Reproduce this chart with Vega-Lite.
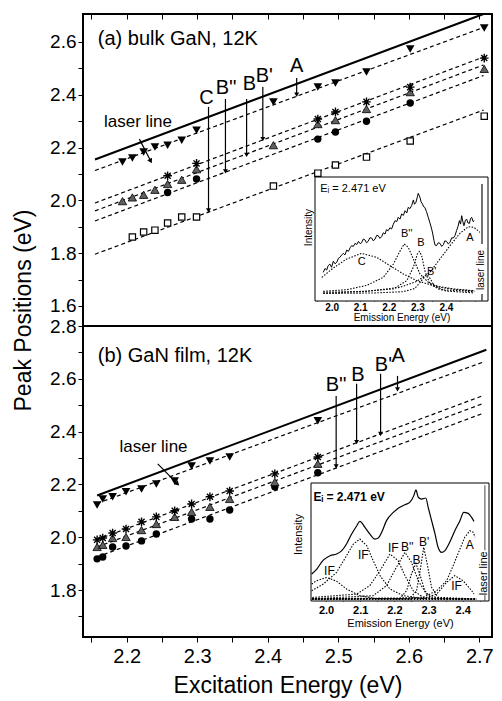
{
  "$schema": "https://vega.github.io/schema/vega-lite/v6.json",
  "padding": {"left": 11, "top": 9, "right": 5, "bottom": 0},
  "bounds": "flush",
  "spacing": 0,
  "config": {
    "view": {"stroke": "black", "strokeWidth": 2},
    "axis": {"grid": false, "labelFont": "Liberation Sans", "titleFont": "Liberation Sans", "labelColor": "black", "titleColor": "black", "tickColor": "black", "domainColor": "black", "titleFontWeight": "normal"},
    "text": {"font": "Liberation Sans", "color": "black"}
  },
  "datasets": {
    "fitsA": [
      {"s": "td", "x": 2.155, "y": 2.113}, {"s": "td", "x": 2.706, "y": 2.655},
      {"s": "st", "x": 2.155, "y": 1.990}, {"s": "st", "x": 2.706, "y": 2.543},
      {"s": "tu", "x": 2.155, "y": 1.960}, {"s": "tu", "x": 2.706, "y": 2.513},
      {"s": "ci", "x": 2.155, "y": 1.922}, {"s": "ci", "x": 2.706, "y": 2.473},
      {"s": "sq", "x": 2.155, "y": 1.796}, {"s": "sq", "x": 2.706, "y": 2.342}
    ],
    "laserA": [{"x": 2.155, "y": 2.155}, {"x": 2.706, "y": 2.706}],
    "ptsA": [
      {"s": "td", "x": 2.194, "y": 2.145}, {"s": "td", "x": 2.208, "y": 2.160}, {"s": "td", "x": 2.224, "y": 2.183}, {"s": "td", "x": 2.240, "y": 2.202}, {"s": "td", "x": 2.258, "y": 2.209}, {"s": "td", "x": 2.278, "y": 2.228}, {"s": "td", "x": 2.299, "y": 2.266}, {"s": "td", "x": 2.408, "y": 2.373}, {"s": "td", "x": 2.471, "y": 2.429}, {"s": "td", "x": 2.496, "y": 2.445}, {"s": "td", "x": 2.540, "y": 2.486}, {"s": "td", "x": 2.602, "y": 2.573}, {"s": "td", "x": 2.707, "y": 2.653},
      {"s": "st", "x": 2.258, "y": 2.093}, {"s": "st", "x": 2.299, "y": 2.140}, {"s": "st", "x": 2.471, "y": 2.308}, {"s": "st", "x": 2.496, "y": 2.335}, {"s": "st", "x": 2.540, "y": 2.373}, {"s": "st", "x": 2.602, "y": 2.429}, {"s": "st", "x": 2.707, "y": 2.539},
      {"s": "tu", "x": 2.194, "y": 1.997}, {"s": "tu", "x": 2.208, "y": 2.011}, {"s": "tu", "x": 2.224, "y": 2.021}, {"s": "tu", "x": 2.240, "y": 2.040}, {"s": "tu", "x": 2.258, "y": 2.062}, {"s": "tu", "x": 2.278, "y": 2.078}, {"s": "tu", "x": 2.299, "y": 2.118}, {"s": "tu", "x": 2.408, "y": 2.209}, {"s": "tu", "x": 2.471, "y": 2.289}, {"s": "tu", "x": 2.496, "y": 2.304}, {"s": "tu", "x": 2.540, "y": 2.346}, {"s": "tu", "x": 2.602, "y": 2.410}, {"s": "tu", "x": 2.707, "y": 2.498},
      {"s": "ci", "x": 2.258, "y": 2.030}, {"s": "ci", "x": 2.299, "y": 2.081}, {"s": "ci", "x": 2.471, "y": 2.232}, {"s": "ci", "x": 2.496, "y": 2.259}, {"s": "ci", "x": 2.540, "y": 2.300}, {"s": "ci", "x": 2.602, "y": 2.369},
      {"s": "sq", "x": 2.208, "y": 1.861}, {"s": "sq", "x": 2.224, "y": 1.880}, {"s": "sq", "x": 2.240, "y": 1.887}, {"s": "sq", "x": 2.258, "y": 1.914}, {"s": "sq", "x": 2.278, "y": 1.937}, {"s": "sq", "x": 2.299, "y": 1.937}, {"s": "sq", "x": 2.408, "y": 2.054}, {"s": "sq", "x": 2.471, "y": 2.103}, {"s": "sq", "x": 2.496, "y": 2.134}, {"s": "sq", "x": 2.540, "y": 2.164}, {"s": "sq", "x": 2.602, "y": 2.225}, {"s": "sq", "x": 2.707, "y": 2.319}
    ],
    "arrA": [
      {"lab": "C", "x": 2.316, "y": 2.354, "y2": 1.962, "lx": 2.313, "ly": 2.386},
      {"lab": "B''", "x": 2.340, "y": 2.384, "y2": 2.110, "lx": 2.341, "ly": 2.424},
      {"lab": "B", "x": 2.370, "y": 2.384, "y2": 2.172, "lx": 2.374, "ly": 2.442},
      {"lab": "B'", "x": 2.393, "y": 2.429, "y2": 2.232, "lx": 2.395, "ly": 2.472},
      {"lab": "A", "x": 2.441, "y": 2.464, "y2": 2.400, "lx": 2.441, "ly": 2.510}
    ],
    "ptrA": [{"x": 2.218, "y": 2.232, "x2": 2.234, "y2": 2.149}],
    "laserTxtA": [{"t": "laser line", "x": 2.216, "y": 2.297}],
    "panelA": [{"t": "(a) bulk GaN, 12K", "x": 2.159, "y": 2.611}],
    "frameA": [{"E": 1.942, "E2": 2.547, "v": 0, "v2": 1}],
    "specA": [
      {"E": 1.971, "v": 0.231}, {"E": 1.977, "v": 0.262}, {"E": 1.983, "v": 0.25}, {"E": 1.988, "v": 0.285}, {"E": 1.994, "v": 0.298}, {"E": 2.000, "v": 0.272}, {"E": 2.006, "v": 0.32}, {"E": 2.012, "v": 0.30}, {"E": 2.018, "v": 0.312}, {"E": 2.024, "v": 0.345}, {"E": 2.029, "v": 0.352}, {"E": 2.035, "v": 0.37}, {"E": 2.041, "v": 0.384}, {"E": 2.047, "v": 0.372}, {"E": 2.053, "v": 0.411}, {"E": 2.059, "v": 0.40}, {"E": 2.065, "v": 0.43}, {"E": 2.070, "v": 0.446}, {"E": 2.076, "v": 0.44}, {"E": 2.082, "v": 0.465}, {"E": 2.088, "v": 0.455}, {"E": 2.094, "v": 0.481}, {"E": 2.100, "v": 0.462}, {"E": 2.105, "v": 0.47}, {"E": 2.111, "v": 0.50}, {"E": 2.117, "v": 0.492}, {"E": 2.122, "v": 0.47}, {"E": 2.128, "v": 0.481}, {"E": 2.134, "v": 0.51}, {"E": 2.140, "v": 0.508}, {"E": 2.146, "v": 0.485}, {"E": 2.152, "v": 0.50}, {"E": 2.158, "v": 0.53}, {"E": 2.163, "v": 0.527}, {"E": 2.169, "v": 0.505}, {"E": 2.175, "v": 0.519}, {"E": 2.181, "v": 0.55}, {"E": 2.187, "v": 0.54}, {"E": 2.192, "v": 0.575}, {"E": 2.198, "v": 0.567}, {"E": 2.204, "v": 0.59}, {"E": 2.210, "v": 0.581}, {"E": 2.216, "v": 0.62}, {"E": 2.222, "v": 0.648}, {"E": 2.228, "v": 0.64}, {"E": 2.233, "v": 0.675}, {"E": 2.239, "v": 0.66}, {"E": 2.245, "v": 0.702}, {"E": 2.251, "v": 0.69}, {"E": 2.257, "v": 0.728}, {"E": 2.263, "v": 0.71}, {"E": 2.268, "v": 0.755}, {"E": 2.274, "v": 0.745}, {"E": 2.280, "v": 0.769}, {"E": 2.286, "v": 0.815}, {"E": 2.290, "v": 0.78}, {"E": 2.295, "v": 0.796}, {"E": 2.300, "v": 0.84}, {"E": 2.303, "v": 0.868}, {"E": 2.309, "v": 0.836}, {"E": 2.313, "v": 0.80}, {"E": 2.318, "v": 0.782}, {"E": 2.322, "v": 0.76}, {"E": 2.326, "v": 0.755}, {"E": 2.332, "v": 0.72}, {"E": 2.338, "v": 0.675}, {"E": 2.344, "v": 0.63}, {"E": 2.350, "v": 0.581}, {"E": 2.354, "v": 0.54}, {"E": 2.358, "v": 0.487}, {"E": 2.362, "v": 0.45}, {"E": 2.367, "v": 0.446}, {"E": 2.373, "v": 0.47}, {"E": 2.379, "v": 0.465}, {"E": 2.385, "v": 0.44}, {"E": 2.391, "v": 0.454}, {"E": 2.396, "v": 0.485}, {"E": 2.402, "v": 0.481}, {"E": 2.408, "v": 0.46}, {"E": 2.414, "v": 0.473}, {"E": 2.420, "v": 0.51}, {"E": 2.426, "v": 0.508}, {"E": 2.432, "v": 0.53}, {"E": 2.437, "v": 0.567}, {"E": 2.442, "v": 0.60}, {"E": 2.447, "v": 0.648}, {"E": 2.451, "v": 0.62}, {"E": 2.455, "v": 0.688}, {"E": 2.459, "v": 0.64}, {"E": 2.463, "v": 0.607}, {"E": 2.468, "v": 0.65}, {"E": 2.472, "v": 0.661}, {"E": 2.477, "v": 0.63}, {"E": 2.482, "v": 0.626}, {"E": 2.486, "v": 0.665}, {"E": 2.490, "v": 0.675}, {"E": 2.495, "v": 0.64}, {"E": 2.499, "v": 0.648}
    ],
    "compA": [
      {"c": "C", "E": 1.966, "v": 0.191}, {"c": "C", "E": 2.006, "v": 0.266}, {"c": "C", "E": 2.053, "v": 0.339}, {"c": "C", "E": 2.105, "v": 0.384}, {"c": "C", "E": 2.158, "v": 0.352}, {"c": "C", "E": 2.204, "v": 0.285}, {"c": "C", "E": 2.251, "v": 0.218}, {"c": "C", "E": 2.298, "v": 0.164}, {"c": "C", "E": 2.356, "v": 0.124}, {"c": "C", "E": 2.426, "v": 0.097}, {"c": "C", "E": 2.499, "v": 0.083},
      {"c": "B2", "E": 1.971, "v": 0.078}, {"c": "B2", "E": 2.053, "v": 0.091}, {"c": "B2", "E": 2.123, "v": 0.126}, {"c": "B2", "E": 2.181, "v": 0.191}, {"c": "B2", "E": 2.216, "v": 0.298}, {"c": "B2", "E": 2.240, "v": 0.406}, {"c": "B2", "E": 2.254, "v": 0.46}, {"c": "B2", "E": 2.268, "v": 0.433}, {"c": "B2", "E": 2.286, "v": 0.339}, {"c": "B2", "E": 2.309, "v": 0.218}, {"c": "B2", "E": 2.338, "v": 0.151}, {"c": "B2", "E": 2.379, "v": 0.11}, {"c": "B2", "E": 2.437, "v": 0.091}, {"c": "B2", "E": 2.499, "v": 0.081},
      {"c": "B", "E": 1.971, "v": 0.07}, {"c": "B", "E": 2.111, "v": 0.078}, {"c": "B", "E": 2.216, "v": 0.097}, {"c": "B", "E": 2.263, "v": 0.164}, {"c": "B", "E": 2.286, "v": 0.272}, {"c": "B", "E": 2.300, "v": 0.379}, {"c": "B", "E": 2.307, "v": 0.40}, {"c": "B", "E": 2.315, "v": 0.366}, {"c": "B", "E": 2.326, "v": 0.245}, {"c": "B", "E": 2.344, "v": 0.137}, {"c": "B", "E": 2.379, "v": 0.091}, {"c": "B", "E": 2.499, "v": 0.075},
      {"c": "B1", "E": 1.971, "v": 0.06}, {"c": "B1", "E": 2.15, "v": 0.065}, {"c": "B1", "E": 2.25, "v": 0.075}, {"c": "B1", "E": 2.29, "v": 0.10}, {"c": "B1", "E": 2.31, "v": 0.15}, {"c": "B1", "E": 2.325, "v": 0.20}, {"c": "B1", "E": 2.335, "v": 0.21}, {"c": "B1", "E": 2.345, "v": 0.18}, {"c": "B1", "E": 2.36, "v": 0.12}, {"c": "B1", "E": 2.40, "v": 0.08}, {"c": "B1", "E": 2.499, "v": 0.065},
      {"c": "A", "E": 1.971, "v": 0.062}, {"c": "A", "E": 2.123, "v": 0.078}, {"c": "A", "E": 2.239, "v": 0.11}, {"c": "A", "E": 2.298, "v": 0.159}, {"c": "A", "E": 2.344, "v": 0.231}, {"c": "A", "E": 2.379, "v": 0.339}, {"c": "A", "E": 2.414, "v": 0.446}, {"c": "A", "E": 2.449, "v": 0.546}, {"c": "A", "E": 2.478, "v": 0.599}, {"c": "A", "E": 2.498, "v": 0.594}, {"c": "A", "E": 2.519, "v": 0.554}
    ],
    "lblA": [
      {"t": "C", "E": 2.105, "v": 0.317}, {"t": "B''", "E": 2.263, "v": 0.54}, {"t": "B", "E": 2.312, "v": 0.465}, {"t": "B'", "E": 2.35, "v": 0.236}, {"t": "A", "E": 2.484, "v": 0.508}
    ],
    "eiA": [{"t": "Eᵢ = 2.471 eV", "E": 1.96, "v": 0.903}],
    "lasBarA": [{"E": 2.526, "v": 0.944, "v2": 0.46}, {"E": 2.526, "v": 0.056, "v2": 0}],
    "lasTxtA": [{"t": "laser line", "E": 2.522, "v": 0.25}],
    "fitsB": [
      {"s": "td", "x": 2.158, "y": 2.128}, {"s": "td", "x": 2.704, "y": 2.662},
      {"s": "st", "x": 2.158, "y": 1.991}, {"s": "st", "x": 2.704, "y": 2.535},
      {"s": "tu", "x": 2.158, "y": 1.963}, {"s": "tu", "x": 2.704, "y": 2.505},
      {"s": "ci", "x": 2.158, "y": 1.925}, {"s": "ci", "x": 2.704, "y": 2.468}
    ],
    "laserB": [{"x": 2.158, "y": 2.158}, {"x": 2.71, "y": 2.71}],
    "ptsB": [
      {"s": "td", "x": 2.158, "y": 2.122}, {"s": "td", "x": 2.166, "y": 2.145}, {"s": "td", "x": 2.180, "y": 2.153}, {"s": "td", "x": 2.199, "y": 2.172}, {"s": "td", "x": 2.221, "y": 2.183}, {"s": "td", "x": 2.242, "y": 2.202}, {"s": "td", "x": 2.268, "y": 2.213}, {"s": "td", "x": 2.292, "y": 2.270}, {"s": "td", "x": 2.318, "y": 2.289}, {"s": "td", "x": 2.346, "y": 2.304}, {"s": "td", "x": 2.471, "y": 2.441},
      {"s": "st", "x": 2.158, "y": 1.990}, {"s": "st", "x": 2.166, "y": 1.997}, {"s": "st", "x": 2.180, "y": 2.016}, {"s": "st", "x": 2.199, "y": 2.031}, {"s": "st", "x": 2.221, "y": 2.058}, {"s": "st", "x": 2.242, "y": 2.077}, {"s": "st", "x": 2.268, "y": 2.100}, {"s": "st", "x": 2.292, "y": 2.126}, {"s": "st", "x": 2.318, "y": 2.153}, {"s": "st", "x": 2.346, "y": 2.175}, {"s": "st", "x": 2.410, "y": 2.240}, {"s": "st", "x": 2.471, "y": 2.304},
      {"s": "tu", "x": 2.158, "y": 1.963}, {"s": "tu", "x": 2.166, "y": 1.971}, {"s": "tu", "x": 2.180, "y": 1.997}, {"s": "tu", "x": 2.199, "y": 2.001}, {"s": "tu", "x": 2.221, "y": 2.027}, {"s": "tu", "x": 2.242, "y": 2.050}, {"s": "tu", "x": 2.268, "y": 2.077}, {"s": "tu", "x": 2.292, "y": 2.096}, {"s": "tu", "x": 2.318, "y": 2.115}, {"s": "tu", "x": 2.346, "y": 2.145}, {"s": "tu", "x": 2.410, "y": 2.209}, {"s": "tu", "x": 2.471, "y": 2.278},
      {"s": "ci", "x": 2.158, "y": 1.918}, {"s": "ci", "x": 2.166, "y": 1.925}, {"s": "ci", "x": 2.180, "y": 1.963}, {"s": "ci", "x": 2.199, "y": 1.967}, {"s": "ci", "x": 2.221, "y": 1.986}, {"s": "ci", "x": 2.242, "y": 2.012}, {"s": "ci", "x": 2.292, "y": 2.069}, {"s": "ci", "x": 2.318, "y": 2.069}, {"s": "ci", "x": 2.346, "y": 2.103}, {"s": "ci", "x": 2.410, "y": 2.191}, {"s": "ci", "x": 2.471, "y": 2.244}
    ],
    "arrB": [
      {"lab": "B''", "x": 2.497, "y": 2.535, "y2": 2.268, "lx": 2.497, "ly": 2.575},
      {"lab": "B", "x": 2.526, "y": 2.581, "y2": 2.360, "lx": 2.528, "ly": 2.613},
      {"lab": "B'", "x": 2.560, "y": 2.619, "y2": 2.391, "lx": 2.564, "ly": 2.651},
      {"lab": "A", "x": 2.584, "y": 2.611, "y2": 2.560, "lx": 2.585, "ly": 2.685}
    ],
    "ptrB": [{"x": 2.244, "y": 2.278, "x2": 2.272, "y2": 2.202}],
    "laserTxtB": [{"t": "laser line", "x": 2.238, "y": 2.342}],
    "panelB": [{"t": "(b) GaN film, 12K", "x": 2.159, "y": 2.688}],
    "frameB": [{"E": 1.956, "E2": 2.477, "v": 0, "v2": 1}],
    "specB": [
      {"E": 1.958, "v": 0.229}, {"E": 1.973, "v": 0.271}, {"E": 1.992, "v": 0.347}, {"E": 2.012, "v": 0.384}, {"E": 2.031, "v": 0.398}, {"E": 2.046, "v": 0.427}, {"E": 2.060, "v": 0.483}, {"E": 2.075, "v": 0.568}, {"E": 2.090, "v": 0.638}, {"E": 2.099, "v": 0.675}, {"E": 2.114, "v": 0.624}, {"E": 2.128, "v": 0.568}, {"E": 2.143, "v": 0.525}, {"E": 2.153, "v": 0.534}, {"E": 2.163, "v": 0.582}, {"E": 2.177, "v": 0.681}, {"E": 2.197, "v": 0.751}, {"E": 2.216, "v": 0.794}, {"E": 2.231, "v": 0.816}, {"E": 2.245, "v": 0.836}, {"E": 2.257, "v": 0.893}, {"E": 2.263, "v": 0.941}, {"E": 2.270, "v": 0.879}, {"E": 2.280, "v": 0.864}, {"E": 2.292, "v": 0.873}, {"E": 2.299, "v": 0.794}, {"E": 2.309, "v": 0.681}, {"E": 2.319, "v": 0.568}, {"E": 2.328, "v": 0.455}, {"E": 2.338, "v": 0.412}, {"E": 2.348, "v": 0.427}, {"E": 2.362, "v": 0.497}, {"E": 2.377, "v": 0.596}, {"E": 2.392, "v": 0.681}, {"E": 2.403, "v": 0.751}, {"E": 2.416, "v": 0.743}, {"E": 2.426, "v": 0.709}, {"E": 2.433, "v": 0.675}
    ],
    "compB": [
      {"c": "IF1", "E": 1.958, "v": 0.144}, {"c": "IF1", "E": 1.973, "v": 0.172}, {"c": "IF1", "E": 2.002, "v": 0.2}, {"c": "IF1", "E": 2.031, "v": 0.167}, {"c": "IF1", "E": 2.060, "v": 0.102}, {"c": "IF1", "E": 2.099, "v": 0.045}, {"c": "IF1", "E": 2.148, "v": 0.02}, {"c": "IF1", "E": 2.25, "v": 0.017},
      {"c": "IF2", "E": 1.958, "v": 0.087}, {"c": "IF2", "E": 1.992, "v": 0.144}, {"c": "IF2", "E": 2.031, "v": 0.243}, {"c": "IF2", "E": 2.060, "v": 0.384}, {"c": "IF2", "E": 2.080, "v": 0.483}, {"c": "IF2", "E": 2.099, "v": 0.525}, {"c": "IF2", "E": 2.119, "v": 0.469}, {"c": "IF2", "E": 2.138, "v": 0.342}, {"c": "IF2", "E": 2.158, "v": 0.215}, {"c": "IF2", "E": 2.187, "v": 0.102}, {"c": "IF2", "E": 2.226, "v": 0.045}, {"c": "IF2", "E": 2.285, "v": 0.02}, {"c": "IF2", "E": 2.40, "v": 0.017},
      {"c": "IF3", "E": 1.96, "v": 0.03}, {"c": "IF3", "E": 2.090, "v": 0.059}, {"c": "IF3", "E": 2.128, "v": 0.13}, {"c": "IF3", "E": 2.158, "v": 0.257}, {"c": "IF3", "E": 2.187, "v": 0.398}, {"c": "IF3", "E": 2.211, "v": 0.342}, {"c": "IF3", "E": 2.231, "v": 0.215}, {"c": "IF3", "E": 2.255, "v": 0.088}, {"c": "IF3", "E": 2.285, "v": 0.031}, {"c": "IF3", "E": 2.40, "v": 0.017},
      {"c": "B2", "E": 1.96, "v": 0.02}, {"c": "B2", "E": 2.138, "v": 0.045}, {"c": "B2", "E": 2.177, "v": 0.13}, {"c": "B2", "E": 2.206, "v": 0.285}, {"c": "B2", "E": 2.231, "v": 0.412}, {"c": "B2", "E": 2.250, "v": 0.328}, {"c": "B2", "E": 2.270, "v": 0.172}, {"c": "B2", "E": 2.294, "v": 0.059}, {"c": "B2", "E": 2.333, "v": 0.02}, {"c": "B2", "E": 2.44, "v": 0.017},
      {"c": "B", "E": 1.96, "v": 0.017}, {"c": "B", "E": 2.216, "v": 0.02}, {"c": "B", "E": 2.236, "v": 0.088}, {"c": "B", "E": 2.250, "v": 0.229}, {"c": "B", "E": 2.263, "v": 0.319}, {"c": "B", "E": 2.274, "v": 0.229}, {"c": "B", "E": 2.289, "v": 0.088}, {"c": "B", "E": 2.309, "v": 0.02}, {"c": "B", "E": 2.44, "v": 0.017},
      {"c": "B1", "E": 1.96, "v": 0.017}, {"c": "B1", "E": 2.245, "v": 0.02}, {"c": "B1", "E": 2.265, "v": 0.088}, {"c": "B1", "E": 2.277, "v": 0.285}, {"c": "B1", "E": 2.286, "v": 0.455}, {"c": "B1", "E": 2.296, "v": 0.314}, {"c": "B1", "E": 2.309, "v": 0.116}, {"c": "B1", "E": 2.328, "v": 0.031}, {"c": "B1", "E": 2.44, "v": 0.017},
      {"c": "IF4", "E": 1.96, "v": 0.017}, {"c": "IF4", "E": 2.285, "v": 0.02}, {"c": "IF4", "E": 2.324, "v": 0.059}, {"c": "IF4", "E": 2.353, "v": 0.158}, {"c": "IF4", "E": 2.377, "v": 0.215}, {"c": "IF4", "E": 2.401, "v": 0.172}, {"c": "IF4", "E": 2.426, "v": 0.088}, {"c": "IF4", "E": 2.433, "v": 0.059},
      {"c": "A", "E": 1.96, "v": 0.02}, {"c": "A", "E": 2.20, "v": 0.025}, {"c": "A", "E": 2.285, "v": 0.031}, {"c": "A", "E": 2.324, "v": 0.088}, {"c": "A", "E": 2.353, "v": 0.172}, {"c": "A", "E": 2.372, "v": 0.299}, {"c": "A", "E": 2.392, "v": 0.441}, {"c": "A", "E": 2.406, "v": 0.54}, {"c": "A", "E": 2.421, "v": 0.596}, {"c": "A", "E": 2.431, "v": 0.582}, {"c": "A", "E": 2.436, "v": 0.54}
    ],
    "baseB": [{"E": 1.958, "v": 0.017}, {"E": 2.436, "v": 0.017}],
    "lblB": [
      {"t": "IF", "E": 2.010, "v": 0.252}, {"t": "IF", "E": 2.109, "v": 0.392}, {"t": "IF", "E": 2.197, "v": 0.447}, {"t": "B''", "E": 2.238, "v": 0.455}, {"t": "B", "E": 2.265, "v": 0.345}, {"t": "B'", "E": 2.287, "v": 0.50}, {"t": "A", "E": 2.421, "v": 0.475}, {"t": "IF", "E": 2.382, "v": 0.13}
    ],
    "eiB": [{"t": "Eᵢ =  2.471 eV", "E": 1.963, "v": 0.879}],
    "lasBarB": [{"E": 2.465, "v": 0.98, "v2": 0.43}, {"E": 2.465, "v": 0.05, "v2": 0}],
    "lasTxtB": [{"t": "laser line", "E": 2.462, "v": 0.235}]
  },
  "vconcat": [
    {
      "width": 409,
      "height": 312,
      "layer": [
        {
          "encoding": {
            "x": {"field": "x", "type": "quantitative", "scale": {"domain": [2.138, 2.718], "nice": false, "zero": false},
              "axis": {"orient": "top", "values": [2.15, 2.2, 2.25, 2.3, 2.35, 2.4, 2.45, 2.5, 2.55, 2.6, 2.65, 2.7], "labels": false, "tickSize": -5, "domain": false, "title": null}},
            "y": {"field": "y", "type": "quantitative", "scale": {"domain": [1.524, 2.706], "nice": false, "zero": false},
              "axis": {"orient": "left", "values": [1.6, 1.7, 1.8, 1.9, 2.0, 2.1, 2.2, 2.3, 2.4, 2.5, 2.6], "labelExpr": "(round(datum.value*10) % 2 == 0) ? format(datum.value, '.1f') : ''", "labelFontSize": 19, "labelPadding": 2, "tickSize": 5, "domain": false, "title": "Peak Positions (eV)", "titleFontSize": 23, "titleAngle": -90, "titleX": -60, "titleY": 296, "titleAlign": "center", "titleBaseline": "middle"}}
          },
          "layer": [
            {"data": {"name": "fitsA"}, "mark": {"type": "line", "strokeDash": [4, 3], "strokeWidth": 1.2, "color": "black"}, "encoding": {"detail": {"field": "s"}}},
            {"data": {"name": "laserA"}, "mark": {"type": "line", "strokeWidth": 2, "color": "black"}, "encoding": {}},
            {"data": {"name": "ptsA"}, "transform": [{"filter": "datum.s == 'ci'"}], "mark": {"type": "point", "shape": "circle", "filled": true, "color": "black", "size": 55, "opacity": 1}},
            {"data": {"name": "ptsA"}, "transform": [{"filter": "datum.s == 'tu'"}], "mark": {"type": "point", "shape": "triangle-up", "fill": "#606060", "stroke": "black", "strokeWidth": 0.8, "size": 70, "opacity": 1}},
            {"data": {"name": "ptsA"}, "transform": [{"filter": "datum.s == 'st'"}], "mark": {"type": "point", "shape": "M-1,0L1,0M0,-1L0,1M-0.7,-0.7L0.7,0.7M-0.7,0.7L0.7,-0.7", "filled": false, "stroke": "black", "strokeWidth": 1.4, "size": 75, "opacity": 1}},
            {"data": {"name": "ptsA"}, "transform": [{"filter": "datum.s == 'td'"}], "mark": {"type": "point", "shape": "triangle-down", "filled": true, "color": "black", "size": 75, "opacity": 1}},
            {"data": {"name": "ptsA"}, "transform": [{"filter": "datum.s == 'sq'"}], "mark": {"type": "point", "shape": "square", "fill": "white", "stroke": "black", "strokeWidth": 1.2, "size": 40, "opacity": 1}},
            {"data": {"name": "arrA"}, "mark": {"type": "rule", "strokeWidth": 1.2, "color": "black"}, "encoding": {"y2": {"field": "y2"}}},
            {"data": {"name": "arrA"}, "mark": {"type": "point", "shape": "triangle-down", "filled": true, "color": "black", "size": 25, "opacity": 1}, "encoding": {"y": {"field": "y2", "type": "quantitative"}}},
            {"data": {"name": "arrA"}, "mark": {"type": "text", "fontSize": 20, "baseline": "middle", "align": "center"}, "encoding": {"x": {"field": "lx", "type": "quantitative"}, "y": {"field": "ly", "type": "quantitative"}, "text": {"field": "lab"}}},
            {"data": {"name": "ptrA"}, "mark": {"type": "rule", "strokeWidth": 1.2, "color": "black"}, "encoding": {"x2": {"field": "x2"}, "y2": {"field": "y2"}}},
            {"data": {"name": "ptrA"}, "mark": {"type": "point", "shape": "triangle-up", "angle": 153, "filled": true, "color": "black", "size": 30, "opacity": 1}, "encoding": {"x": {"field": "x2", "type": "quantitative"}, "y": {"field": "y2", "type": "quantitative"}}},
            {"data": {"name": "laserTxtA"}, "mark": {"type": "text", "fontSize": 17, "align": "center", "baseline": "middle"}, "encoding": {"text": {"field": "t"}}},
            {"data": {"name": "panelA"}, "mark": {"type": "text", "fontSize": 20, "align": "left", "baseline": "middle"}, "encoding": {"text": {"field": "t"}}}
          ]
        },
        {
          "encoding": {
            "x": {"field": "E", "type": "quantitative", "scale": {"domain": [1.942, 2.547], "range": [232, 405], "nice": false, "zero": false},
              "axis": {"orient": "bottom", "offset": -25, "values": [1.95, 2.0, 2.05, 2.1, 2.15, 2.2, 2.25, 2.3, 2.35, 2.4, 2.45, 2.5], "labelExpr": "(round(datum.value*100) % 10 == 0 && datum.value < 2.45) ? format(datum.value, '.1f') : ''", "labelFontSize": 10, "labelFontWeight": "bold", "tickSize": -3, "labelPadding": 4, "domain": false, "title": "Emission Energy (eV)", "titleFontSize": 10, "titlePadding": 0}},
            "y": {"field": "v", "type": "quantitative", "scale": {"domain": [0, 1], "range": [287, 163], "nice": false, "zero": false},
              "axis": {"orient": "left", "offset": -232, "values": [0.234, 0.448, 0.661, 0.875], "labels": false, "tickSize": -3, "domain": false, "title": "Intensity", "titleFontSize": 10, "titleAngle": -90, "titleX": -7, "titleY": 213, "titleAlign": "center", "titleBaseline": "middle"}}
          },
          "layer": [
            {"data": {"name": "frameA"}, "mark": {"type": "rect", "fill": "white", "stroke": "black", "strokeWidth": 1}, "encoding": {"x2": {"field": "E2"}, "y2": {"field": "v2"}}},
            {"data": {"name": "compA"}, "mark": {"type": "line", "strokeDash": [1.5, 1.5], "strokeWidth": 1.1, "color": "black"}, "encoding": {"detail": {"field": "c"}}},
            {"data": {"name": "specA"}, "mark": {"type": "line", "strokeWidth": 1, "color": "black"}, "encoding": {}},
            {"data": {"name": "lblA"}, "mark": {"type": "text", "fontSize": 11, "align": "center", "baseline": "middle"}, "encoding": {"text": {"field": "t"}}},
            {"data": {"name": "eiA"}, "mark": {"type": "text", "fontSize": 11, "align": "left", "baseline": "middle"}, "encoding": {"text": {"field": "t"}}},
            {"data": {"name": "lasBarA"}, "mark": {"type": "rule", "strokeWidth": 1.5, "color": "#444"}, "encoding": {"y2": {"field": "v2"}}},
            {"data": {"name": "lasTxtA"}, "mark": {"type": "text", "fontSize": 10, "angle": 270, "align": "center", "baseline": "middle"}, "encoding": {"text": {"field": "t"}}}
          ]
        }
      ],
      "resolve": {"scale": {"x": "independent", "y": "independent"}}
    },
    {
      "width": 409,
      "height": 311,
      "layer": [
        {
          "encoding": {
            "x": {"field": "x", "type": "quantitative", "scale": {"domain": [2.138, 2.718], "nice": false, "zero": false},
              "axis": {"orient": "bottom", "values": [2.15, 2.2, 2.25, 2.3, 2.35, 2.4, 2.45, 2.5, 2.55, 2.6, 2.65, 2.7], "labelExpr": "(round(datum.value*100) % 10 == 0) ? format(datum.value, '.1f') : ''", "labelFontSize": 20, "labelPadding": 4, "tickSize": 5, "domain": false, "title": "Excitation Energy (eV)", "titleFontSize": 23, "titlePadding": 8}},
            "y": {"field": "y", "type": "quantitative", "scale": {"domain": [1.622, 2.8], "nice": false, "zero": false},
              "axis": {"orient": "left", "values": [1.7, 1.8, 1.9, 2.0, 2.1, 2.2, 2.3, 2.4, 2.5, 2.6, 2.7, 2.8], "labelExpr": "(round(datum.value*10) % 2 == 0) ? format(datum.value, '.1f') : ''", "labelFontSize": 19, "labelPadding": 2, "tickSize": 5, "domain": false, "title": null}}
          },
          "layer": [
            {"data": {"name": "fitsB"}, "mark": {"type": "line", "strokeDash": [4, 3], "strokeWidth": 1.2, "color": "black"}, "encoding": {"detail": {"field": "s"}}},
            {"data": {"name": "laserB"}, "mark": {"type": "line", "strokeWidth": 2, "color": "black"}, "encoding": {}},
            {"data": {"name": "ptsB"}, "transform": [{"filter": "datum.s == 'ci'"}], "mark": {"type": "point", "shape": "circle", "filled": true, "color": "black", "size": 55, "opacity": 1}},
            {"data": {"name": "ptsB"}, "transform": [{"filter": "datum.s == 'tu'"}], "mark": {"type": "point", "shape": "triangle-up", "fill": "#606060", "stroke": "black", "strokeWidth": 0.8, "size": 70, "opacity": 1}},
            {"data": {"name": "ptsB"}, "transform": [{"filter": "datum.s == 'st'"}], "mark": {"type": "point", "shape": "M-1,0L1,0M0,-1L0,1M-0.7,-0.7L0.7,0.7M-0.7,0.7L0.7,-0.7", "filled": false, "stroke": "black", "strokeWidth": 1.4, "size": 75, "opacity": 1}},
            {"data": {"name": "ptsB"}, "transform": [{"filter": "datum.s == 'td'"}], "mark": {"type": "point", "shape": "triangle-down", "filled": true, "color": "black", "size": 75, "opacity": 1}},
            {"data": {"name": "arrB"}, "mark": {"type": "rule", "strokeWidth": 1.2, "color": "black"}, "encoding": {"y2": {"field": "y2"}}},
            {"data": {"name": "arrB"}, "mark": {"type": "point", "shape": "triangle-down", "filled": true, "color": "black", "size": 25, "opacity": 1}, "encoding": {"y": {"field": "y2", "type": "quantitative"}}},
            {"data": {"name": "arrB"}, "mark": {"type": "text", "fontSize": 20, "baseline": "middle", "align": "center"}, "encoding": {"x": {"field": "lx", "type": "quantitative"}, "y": {"field": "ly", "type": "quantitative"}, "text": {"field": "lab"}}},
            {"data": {"name": "ptrB"}, "mark": {"type": "rule", "strokeWidth": 1.2, "color": "black"}, "encoding": {"x2": {"field": "x2"}, "y2": {"field": "y2"}}},
            {"data": {"name": "ptrB"}, "mark": {"type": "point", "shape": "triangle-up", "angle": 135, "filled": true, "color": "black", "size": 30, "opacity": 1}, "encoding": {"x": {"field": "x2", "type": "quantitative"}, "y": {"field": "y2", "type": "quantitative"}}},
            {"data": {"name": "laserTxtB"}, "mark": {"type": "text", "fontSize": 17, "align": "center", "baseline": "middle"}, "encoding": {"text": {"field": "t"}}},
            {"data": {"name": "panelB"}, "mark": {"type": "text", "fontSize": 20, "align": "left", "baseline": "middle"}, "encoding": {"text": {"field": "t"}}}
          ]
        },
        {
          "encoding": {
            "x": {"field": "E", "type": "quantitative", "scale": {"domain": [1.956, 2.477], "range": [228, 406], "nice": false, "zero": false},
              "axis": {"orient": "bottom", "offset": -36, "values": [2.0, 2.05, 2.1, 2.15, 2.2, 2.25, 2.3, 2.35, 2.4, 2.45], "labelExpr": "(round(datum.value*100) % 10 == 0) ? format(datum.value, '.1f') : ''", "labelFontSize": 11, "labelFontWeight": "bold", "tickSize": -3, "labelPadding": 6, "domain": false, "title": "Emission Energy (eV)", "titleFontSize": 11, "titlePadding": 2}},
            "y": {"field": "v", "type": "quantitative", "scale": {"domain": [0, 1], "range": [275, 157], "nice": false, "zero": false},
              "axis": {"orient": "left", "offset": -228, "values": [0.1, 0.35, 0.6, 0.85], "labels": false, "tickSize": -3, "domain": false, "title": "Intensity", "titleFontSize": 11, "titleAngle": -90, "titleX": -13, "titleY": 208, "titleAlign": "center", "titleBaseline": "middle"}}
          },
          "layer": [
            {"data": {"name": "frameB"}, "mark": {"type": "rect", "fill": "white", "stroke": "black", "strokeWidth": 1}, "encoding": {"x2": {"field": "E2"}, "y2": {"field": "v2"}}},
            {"data": {"name": "baseB"}, "mark": {"type": "line", "strokeDash": [1.5, 1.5], "strokeWidth": 2, "color": "black"}, "encoding": {}},
            {"data": {"name": "compB"}, "mark": {"type": "line", "strokeDash": [1.5, 1.5], "strokeWidth": 1.1, "color": "black"}, "encoding": {"detail": {"field": "c"}}},
            {"data": {"name": "specB"}, "mark": {"type": "line", "strokeWidth": 1.2, "color": "black", "interpolate": "monotone"}, "encoding": {}},
            {"data": {"name": "lblB"}, "mark": {"type": "text", "fontSize": 12, "align": "center", "baseline": "middle"}, "encoding": {"text": {"field": "t"}}},
            {"data": {"name": "eiB"}, "mark": {"type": "text", "fontSize": 12, "fontWeight": "bold", "align": "left", "baseline": "middle"}, "encoding": {"text": {"field": "t"}}},
            {"data": {"name": "lasBarB"}, "mark": {"type": "rule", "strokeWidth": 1, "color": "#444"}, "encoding": {"y2": {"field": "v2"}}},
            {"data": {"name": "lasTxtB"}, "mark": {"type": "text", "fontSize": 11, "angle": 270, "align": "center", "baseline": "middle"}, "encoding": {"text": {"field": "t"}}}
          ]
        }
      ],
      "resolve": {"scale": {"x": "independent", "y": "independent"}}
    }
  ]
}
